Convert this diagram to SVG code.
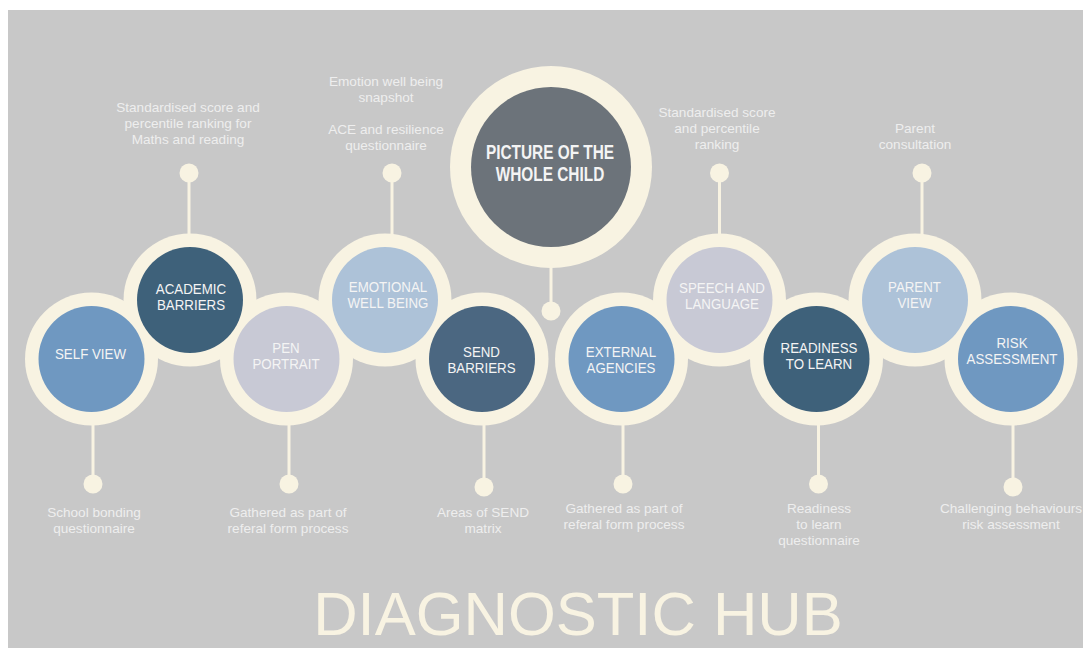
<svg xmlns="http://www.w3.org/2000/svg" width="1083" height="648" viewBox="0 0 1083 648">
<style>
.ring{fill:#f8f3e2}
.dot{fill:#f8f3e2}
.ln{stroke:#f8f3e2;stroke-width:3;fill:none}
.note{font-family:"Liberation Sans",Arial,sans-serif;font-size:13.6px;fill:#eeeeee;text-anchor:middle}
.lbl{font-family:"Liberation Sans",Arial,sans-serif;font-size:15.5px;fill:#f4f4f4;text-anchor:middle}
.hub{font-family:"Liberation Sans",Arial,sans-serif;font-size:20px;font-weight:bold;fill:#f4f4f4;text-anchor:middle}
.title{font-family:"Liberation Sans",Arial,sans-serif;font-size:61.5px;fill:#f8f3e2;text-anchor:middle}
.c1{fill:#6f98c1}.c2{fill:#3e617a}.c3{fill:#c8c9d5}.c4{fill:#adc2d8}.c5{fill:#4b6781}.c6{fill:#6c737a}
</style>
<rect x="0" y="0" width="1083" height="648" fill="#ffffff"/>
<rect x="8" y="10" width="1075" height="638" fill="#c8c8c8"/>

<g id="connectors">
<line class="ln" x1="189" y1="173" x2="189" y2="245"/>
<line class="ln" x1="392" y1="173" x2="392" y2="245"/>
<line class="ln" x1="719.5" y1="173" x2="719.5" y2="245"/>
<line class="ln" x1="922" y1="173" x2="922" y2="245"/>
<line class="ln" x1="93" y1="410" x2="93" y2="484"/>
<line class="ln" x1="289" y1="410" x2="289" y2="484"/>
<line class="ln" x1="484" y1="410" x2="484" y2="487"/>
<line class="ln" x1="623" y1="410" x2="623" y2="484"/>
<line class="ln" x1="818.5" y1="410" x2="818.5" y2="484"/>
<line class="ln" x1="1013" y1="410" x2="1013" y2="487"/>
<line class="ln" x1="551" y1="255" x2="551" y2="311"/>
<circle class="dot" cx="189" cy="173" r="9.5"/>
<circle class="dot" cx="392" cy="173" r="9.5"/>
<circle class="dot" cx="719.5" cy="173" r="9.5"/>
<circle class="dot" cx="922" cy="173" r="9.5"/>
<circle class="dot" cx="93" cy="484" r="9.5"/>
<circle class="dot" cx="289" cy="484" r="9.5"/>
<circle class="dot" cx="484" cy="487" r="9.5"/>
<circle class="dot" cx="623" cy="484" r="9.5"/>
<circle class="dot" cx="818.5" cy="484" r="9.5"/>
<circle class="dot" cx="1013" cy="487" r="9.5"/>
<circle class="dot" cx="551" cy="311" r="9.5"/>
</g>

<g id="rings">
<circle class="ring" cx="91.5" cy="359" r="66.5"/>
<circle class="ring" cx="190" cy="300" r="66.5"/>
<circle class="ring" cx="286.5" cy="359" r="66.5"/>
<circle class="ring" cx="385" cy="300" r="66.5"/>
<circle class="ring" cx="482" cy="359" r="66.5"/>
<circle class="ring" cx="621.5" cy="359" r="66.5"/>
<circle class="ring" cx="719.5" cy="300" r="66.5"/>
<circle class="ring" cx="816.5" cy="359" r="66.5"/>
<circle class="ring" cx="915" cy="300" r="66.5"/>
<circle class="ring" cx="1011" cy="359" r="66.5"/>
</g>

<g id="hub">
<circle class="ring" cx="551" cy="167" r="101"/>
<circle class="c6" cx="551" cy="167" r="80"/>
<g transform="translate(550,0) scale(0.77,1)">
<text class="hub" x="0" y="159.5">PICTURE OF THE</text>
<text class="hub" x="0" y="181">WHOLE CHILD</text>
</g>
</g>

<g id="self-view">
<circle class="c1" cx="91.5" cy="359" r="53"/>
<text class="lbl" transform="translate(90.5,0) scale(0.86,1)" x="0" y="359.5">SELF VIEW</text>
</g>
<g id="academic-barriers">
<circle class="c2" cx="190" cy="300" r="53"/>
<g transform="translate(191,0) scale(0.86,1)"><text class="lbl" x="0" y="294">ACADEMIC</text><text class="lbl" x="0" y="310">BARRIERS</text></g>
</g>
<g id="pen-portrait">
<circle class="c3" cx="286.5" cy="359" r="53"/>
<g transform="translate(286,0) scale(0.86,1)"><text class="lbl" x="0" y="353">PEN</text><text class="lbl" x="0" y="369">PORTRAIT</text></g>
</g>
<g id="emotional-well-being">
<circle class="c4" cx="385" cy="300" r="53"/>
<g transform="translate(388,0) scale(0.86,1)"><text class="lbl" x="0" y="292.5">EMOTIONAL</text><text class="lbl" x="0" y="308.5">WELL BEING</text></g>
</g>
<g id="send-barriers">
<circle class="c5" cx="482" cy="359" r="53"/>
<g transform="translate(481.5,0) scale(0.86,1)"><text class="lbl" x="0" y="357">SEND</text><text class="lbl" x="0" y="373">BARRIERS</text></g>
</g>
<g id="external-agencies">
<circle class="c1" cx="621.5" cy="359" r="53"/>
<g transform="translate(621,0) scale(0.86,1)"><text class="lbl" x="0" y="357">EXTERNAL</text><text class="lbl" x="0" y="373">AGENCIES</text></g>
</g>
<g id="speech-and-language">
<circle class="c3" cx="719.5" cy="300" r="53"/>
<g transform="translate(722,0) scale(0.86,1)"><text class="lbl" x="0" y="293.5">SPEECH AND</text><text class="lbl" x="0" y="309.5">LANGUAGE</text></g>
</g>
<g id="readiness-to-learn">
<circle class="c2" cx="816.5" cy="359" r="53"/>
<g transform="translate(819,0) scale(0.86,1)"><text class="lbl" x="0" y="353.5">READINESS</text><text class="lbl" x="0" y="369">TO LEARN</text></g>
</g>
<g id="parent-view">
<circle class="c4" cx="915" cy="300" r="53"/>
<g transform="translate(914.5,0) scale(0.86,1)"><text class="lbl" x="0" y="292.5">PARENT</text><text class="lbl" x="0" y="308.5">VIEW</text></g>
</g>
<g id="risk-assessment">
<circle class="c1" cx="1011" cy="359" r="53"/>
<g transform="translate(1012,0) scale(0.86,1)"><text class="lbl" x="0" y="348.5">RISK</text><text class="lbl" x="0" y="364">ASSESSMENT</text></g>
</g>

<g id="notes">
<text class="note" x="188" y="111.5">Standardised score and</text>
<text class="note" x="188" y="127.5">percentile ranking for</text>
<text class="note" x="188" y="143.5">Maths and reading</text>
<text class="note" x="386" y="85.5">Emotion well being</text>
<text class="note" x="386" y="101.5">snapshot</text>
<text class="note" x="386" y="133.5">ACE and resilience</text>
<text class="note" x="386" y="149.5">questionnaire</text>
<text class="note" x="717" y="116.5">Standardised score</text>
<text class="note" x="717" y="132.5">and percentile</text>
<text class="note" x="717" y="148.5">ranking</text>
<text class="note" x="915" y="132.5">Parent</text>
<text class="note" x="915" y="148.5">consultation</text>
<text class="note" x="94" y="517">School bonding</text>
<text class="note" x="94" y="533">questionnaire</text>
<text class="note" x="288" y="517">Gathered as part of</text>
<text class="note" x="288" y="533">referal form process</text>
<text class="note" x="483" y="517">Areas of SEND</text>
<text class="note" x="483" y="533">matrix</text>
<text class="note" x="624" y="512.5">Gathered as part of</text>
<text class="note" x="624" y="528.5">referal form process</text>
<text class="note" x="819" y="512.5">Readiness</text>
<text class="note" x="819" y="528.5">to learn</text>
<text class="note" x="819" y="544.5">questionnaire</text>
<text class="note" x="1011" y="512.5">Challenging behaviours</text>
<text class="note" x="1011" y="528.5">risk assessment</text>
</g>

<text class="title" x="578" y="635">DIAGNOSTIC HUB</text>
</svg>
